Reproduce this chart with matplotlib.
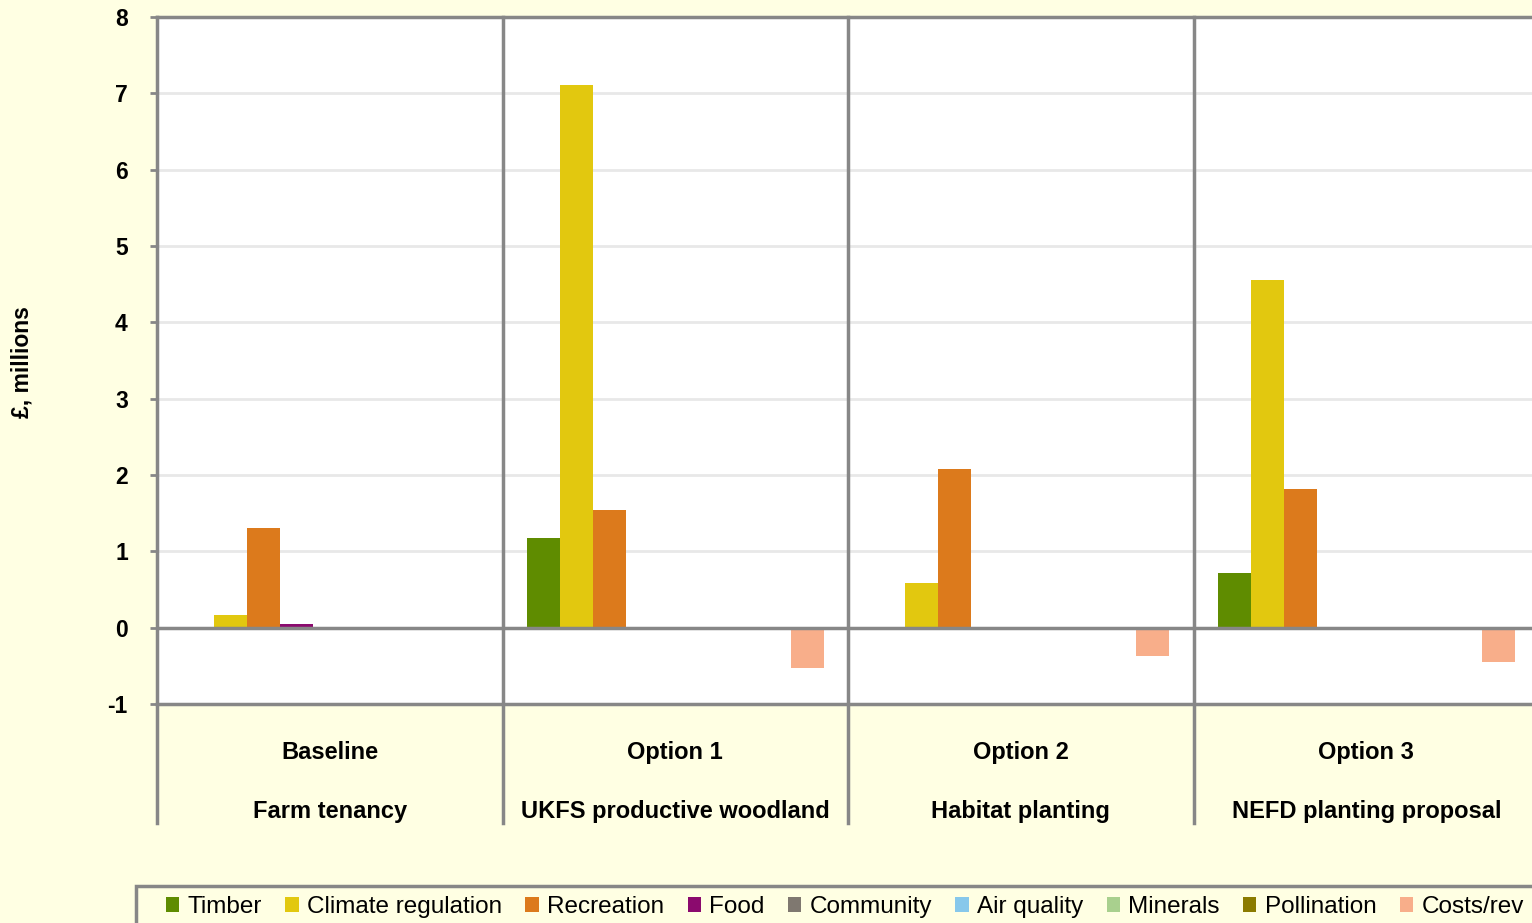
import matplotlib.pyplot as plt
import numpy as np
from matplotlib.patches import Rectangle
from matplotlib.ticker import FuncFormatter

plt.rcParams['font.family'] = ['Liberation Sans', 'DejaVu Sans']

# data (GBP millions)
options = ['Option 1', 'Option 2', 'Option 3']
groups = ['Baseline'] + options
subtitles = ['Farm tenancy', 'UKFS productive woodland', 'Habitat planting', 'NEFD planting proposal']
series = ['Timber', 'Climate regulation', 'Recreation', 'Food', 'Community',
          'Air quality', 'Minerals', 'Pollination', 'Costs/rev']
timber = [0.0, 1.18, 0.0, 0.71]
climate = [0.17, 7.11, 0.59, 4.55]
recreation = [1.30, 1.54, 2.08, 1.82]
food = [0.05, 0.0, 0.0, 0.0]
community = [0.0, 0.0, 0.0, 0.0]
air_quality = [0.0, 0.0, 0.0, 0.0]
minerals = [0.0, 0.0, 0.0, 0.0]
pollination = [0.0, 0.0, 0.0, 0.0]
costs = [0.0, -0.53, -0.37, -0.45]
values = [timber, climate, recreation, food, community, air_quality, minerals, pollination, costs]

colors = ['#5f8c00', '#e2c80f', '#dc7a1c', '#8b0a6e', '#7f7870',
          '#87c8eb', '#a9d08e', '#8b7b00', '#f8ae8a']

bg = '#ffffe3'
grey = '#878787'

fig = plt.figure(figsize=(15.32, 9.23), dpi=100, facecolor=bg)
ax = fig.add_axes([157 / 1532, 1 - 704 / 923, 1382 / 1532, 687 / 923])
ax.set_facecolor('white')

x = np.arange(len(groups))
w = 0.0955
handles = []
for i, (name, vals, c) in enumerate(zip(series, values, colors)):
    b = ax.bar(x + (i - 4) * w, vals, w, color=c, label=name, zorder=3)
    handles.append(b)

ax.set_xlim(-0.5, 3.5)
ax.set_ylim(-1, 8)
ax.set_yticks(range(-1, 9))
ax.yaxis.set_major_formatter(FuncFormatter(lambda v, p: '%d' % v))
ax.yaxis.grid(True, color='#e8e8e8', linewidth=2, zorder=0)
ax.axhline(0, color=grey, linewidth=2.5, zorder=4)
ax.set_xticks([])
ax.tick_params(axis='y', length=5, width=2, color=grey, labelsize=16.5, pad=16)
for lab in ax.get_yticklabels():
    lab.set_fontweight('bold')

for s in ['top', 'bottom']:
    ax.spines[s].set_color(grey)
    ax.spines[s].set_linewidth(2.5)
ax.spines['left'].set_visible(False)
ax.spines['right'].set_visible(False)

# group separators, extended down through the category label area
trans = ax.get_xaxis_transform()
for xs in [-0.5, 0.5, 1.5, 2.5]:
    ax.plot([xs, xs], [-0.173, 1], color=grey, linewidth=2.5, transform=trans,
            clip_on=False, zorder=5)

for xi, g, s in zip(x, groups, subtitles):
    ax.text(xi, -0.071, g, transform=trans, ha='center', va='center',
            fontsize=17, fontweight='bold')
    ax.text(xi, -0.157, s, transform=trans, ha='center', va='center',
            fontsize=17, fontweight='bold')

fig.text(22 / 1532, 1 - 362 / 923, '£, millions', rotation=90, ha='center', va='center',
         fontsize=16.5, fontweight='bold')

# legend box runs off the bottom/right of the figure
fig.patches.append(Rectangle((136 / 1532, -0.05), 1.1, 0.05 + (923 - 886) / 923,
                             transform=fig.transFigure, facecolor=bg, edgecolor=grey,
                             linewidth=2.5, zorder=1))
leg = fig.legend(handles=handles, loc='center left', bbox_to_anchor=(166 / 1532, 1 - 907 / 923),
                 ncol=9, frameon=False, fontsize=17.5, handlelength=0.55, handleheight=0.55,
                 handletextpad=0.35, columnspacing=0.95, borderpad=0, borderaxespad=0)
leg.set_zorder(2)

fig.savefig('out.png', dpi=100, facecolor=bg)
